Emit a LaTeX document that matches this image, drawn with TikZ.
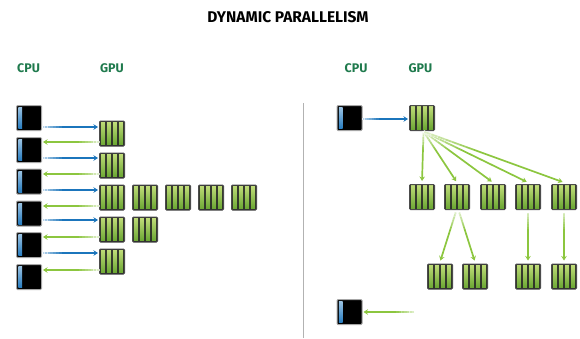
\documentclass[tikz,border=0pt]{standalone}
\usepackage{fontspec}
\setmainfont{Fira Sans}
\usetikzlibrary{calc,arrows.meta}
\definecolor{lblgreen}{HTML}{1F7A4D}
\definecolor{arrgreen}{HTML}{8CC63F}
\definecolor{arrblue}{HTML}{1B75BC}
\definecolor{bartop}{HTML}{BFDC78}
\definecolor{barbot}{HTML}{6AA632}
\tikzset{
  chipbase/.style={minimum size=25pt,inner sep=0pt,outer sep=0pt,rounded corners=1pt},
  cpu/.style={chipbase,fill=black,draw=black!35,line width=1pt,
    path picture={
      \shade[sharp corners,top color=arrblue!40!white,bottom color=arrblue]
        ($(path picture bounding box.north west)+(1.8pt,-2pt)$) rectangle
        ($(path picture bounding box.south west)+(5.6pt,2pt)$);
    }},
  gpu/.style={chipbase,fill=black!85,draw=black!70,line width=1pt,
    path picture={
      \foreach \i in {0,1,2,3}{
        \shade[sharp corners,top color=bartop,bottom color=barbot]
          ($(path picture bounding box.north west)+(1.3pt+\i*6pt,-1.3pt)$) rectangle
          ($(path picture bounding box.south west)+(5.7pt+\i*6pt,1.3pt)$);
      }
    }},
  lbl/.style={text=lblgreen,font=\bfseries\fontsize{12.5}{14}\selectfont,inner sep=0pt},
  ttl/.style={text=black,font=\bfseries\fontsize{15.5}{18}\selectfont,inner sep=0pt},
  conn/.style={line width=1.7pt,shorten >=1.5pt,shorten <=1pt,-{Stealth[length=4.5pt,width=5.5pt]}},
}
% faded-tail connector: #1 colour, #2 start, #3 end
\newcommand{\fadeconn}[3]{%
  \draw[conn,#1] #2 -- #3;
  \foreach \p/\o in {0/.7,.05/.6,.1/.5,.15/.4,.2/.3,.25/.2,.3/.1}{
    \draw[white,opacity=\o,line width=2.6pt]
      ($#2!\p!#3$) -- ($#2!\p+.055!#3$);
  }%
}
\begin{document}
\begin{tikzpicture}[x=1pt,y=-1pt]
\useasboundingbox (0,0) rectangle (580,338);
\node[ttl] (title) at (288,17) {DYNAMIC PARALLELISM};
\node[lbl] (lc) at (28.5,68) {CPU};
\node[lbl] (lg) at (112,68) {GPU};
\node[lbl] (rc) at (356,68) {CPU};
\node[lbl] (rg) at (420.5,68) {GPU};
% left column
\foreach \n/\y in {1/118,2/150,3/181.5,4/213.5,5/245,6/277}{
  \node[cpu] (c\n) at (29,\y) {};
}
\foreach \n/\y in {1/133.5,2/165.5,3/197.5,4/229.5,5/261.5}{
  \node[gpu] (g\n) at (112,\y) {};
}
\foreach \n/\x in {a/145,b/178,c/211,d/244}{
  \node[gpu] (g3\n) at (\x,197.5) {};
}
\node[gpu] (g4a) at (145,229.5) {};
% left arrows
\fadeconn{arrblue}{([yshift=-9pt]c1.east)}{([yshift=6.5pt]g1.west)}
\fadeconn{arrgreen}{([yshift=-8.5pt]g1.west)}{([yshift=8pt]c2.east)}
\fadeconn{arrblue}{([yshift=-8pt]c2.east)}{([yshift=7.5pt]g2.west)}
\fadeconn{arrgreen}{([yshift=-8.5pt]g2.west)}{([yshift=7.5pt]c3.east)}
\fadeconn{arrblue}{([yshift=-8.5pt]c3.east)}{([yshift=7.5pt]g3.west)}
\fadeconn{arrgreen}{([yshift=-8.5pt]g3.west)}{([yshift=7.5pt]c4.east)}
\fadeconn{arrblue}{([yshift=-6.5pt]c4.east)}{([yshift=9.5pt]g4.west)}
\fadeconn{arrgreen}{([yshift=-7.5pt]g4.west)}{([yshift=8pt]c5.east)}
\fadeconn{arrblue}{([yshift=-8pt]c5.east)}{([yshift=8.5pt]g5.west)}
\fadeconn{arrgreen}{([yshift=-8.5pt]g5.west)}{([yshift=7pt]c6.east)}
% divider
\coordinate (dt) at (303.5,103);
\coordinate (db) at (303.5,338);
\draw[black!30,line width=1pt] (dt) -- (db);
% right side
\node[cpu] (rc1) at (349.5,118) {};
\node[gpu] (rg0) at (422,118) {};
\foreach \n/\x in {1/422,2/457,3/493,4/528,5/564}{
  \node[gpu] (r\n) at (\x,197) {};
}
\foreach \n/\x in {a/440,b/475,c/528,d/564}{
  \node[gpu] (s\n) at (\x,276.5) {};
}
\node[cpu] (rc2) at (349.5,312) {};
\coordinate (free) at (415,312);
\fadeconn{arrblue}{([yshift=-1pt]rc1.east)}{([yshift=-1pt]rg0.west)}
\foreach \n in {1,2,3,4,5}{
  \fadeconn{arrgreen}{([xshift=1.5pt,yshift=-1pt]rg0.south)}{([yshift=2pt]r\n.north)}
}
\fadeconn{arrgreen}{([xshift=-1pt,yshift=-2pt]r2.south)}{([yshift=2pt]sa.north)}
\fadeconn{arrgreen}{([xshift=2pt,yshift=-2pt]r2.south)}{([yshift=2pt]sb.north)}
\fadeconn{arrgreen}{([yshift=-2pt]r4.south)}{([yshift=2pt]sc.north)}
\fadeconn{arrgreen}{([yshift=-2pt]r5.south)}{([yshift=2pt]sd.north)}
\fadeconn{arrgreen}{(free)}{(rc2.east)}
\end{tikzpicture}
\end{document}
